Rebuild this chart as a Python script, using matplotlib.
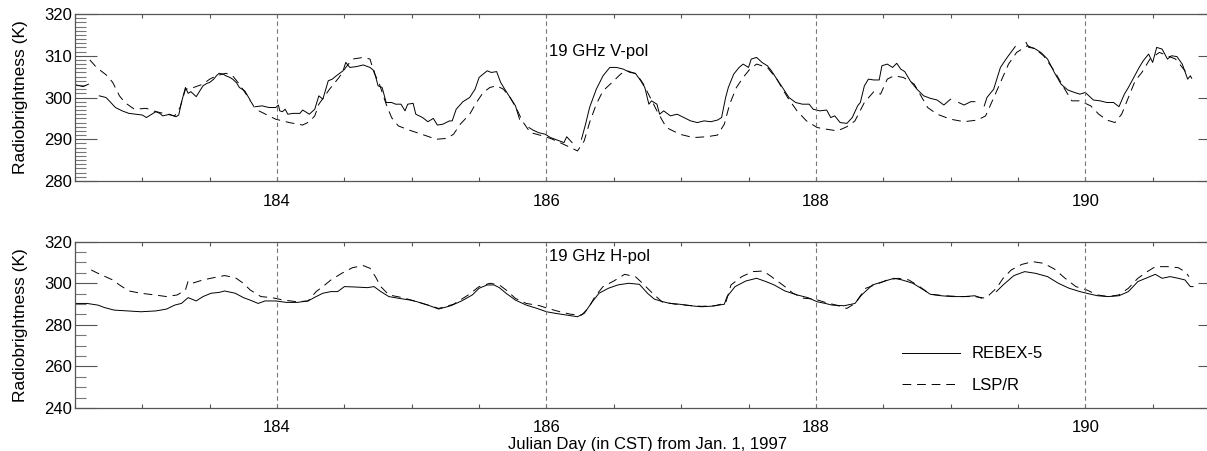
import numpy as np
import matplotlib
matplotlib.use("Agg")
import matplotlib.pyplot as plt
from matplotlib.ticker import MultipleLocator

plt.rcParams['font.family'] = ['Liberation Sans', 'DejaVu Sans']

# %%
# Values (day of year, brightness in K)
# None marks a gap in the record
rebex_v_day = [182.51, 182.56, 182.60, None, 182.68, 182.73, 182.76, 182.80, 182.85, 182.90,
               182.95, 183.00, 183.03, 183.07, 183.10, 183.13, 183.15, 183.18, 183.20, 183.23,
               183.25, 183.27, 183.29, 183.32, 183.34, 183.36, 183.40, 183.45, 183.48, 183.50,
               183.53, 183.55, 183.57, 183.60, 183.62, 183.65, 183.67, 183.70, 183.72, 183.76,
               183.80, None, 183.84, 183.89, 183.94, 183.99, 184.01, 184.02, 184.04, 184.06,
               184.08, 184.12, 184.17, 184.19, 184.24, 184.28, 184.31, 184.34, 184.38, 184.41,
               184.44, 184.49, 184.51, 184.54, 184.59, 184.64, 184.69, 184.72, 184.75, 184.78,
               184.81, 184.85, 184.88, 184.92, 184.95, 184.97, 185.01, 185.03, 185.08, 185.12,
               185.16, 185.19, 185.23, 185.28, 185.30, 185.33, 185.38, 185.43, 185.47, 185.50,
               185.53, 185.56, 185.59, 185.63, 185.66, 185.69, 185.73, 185.77, 185.80, None,
               185.87, 185.90, 185.94, 185.99, 186.03, 186.08, 186.13, 186.15, 186.19, None,
               186.26, 186.29, 186.32, 186.37, 186.42, 186.47, 186.52, 186.57, 186.62, 186.66,
               186.70, 186.73, 186.76, 186.78, 186.82, 186.84, 186.87, 186.92, 186.97, 187.02,
               187.07, 187.12, 187.17, 187.22, 187.27, 187.30, 187.33, 187.35, 187.39, 187.43,
               187.46, 187.50, 187.52, 187.56, 187.60, 187.64, 187.67, 187.71, 187.76, 187.80,
               187.85, 187.90, 187.95, 187.98, 188.03, 188.08, 188.11, 188.14, 188.18, 188.23,
               188.27, 188.31, 188.33, 188.36, 188.39, 188.43, 188.47, 188.49, 188.53, 188.57,
               188.60, 188.63, 188.66, 188.70, 188.75, 188.80, 188.85, 188.90, 188.95, 189.00,
               None, 189.06, 189.10, 189.15, 189.18, None, 189.25, 189.27, 189.32, 189.37,
               189.42, 189.48, None, 189.56, 189.58, 189.62, 189.67, 189.72, 189.77, 189.82,
               189.87, 189.92, 189.96, 190.00, 190.06, 190.11, 190.16, 190.21, 190.25, 190.29,
               190.32, 190.36, 190.40, 190.43, 190.47, 190.50, 190.53, 190.57, 190.61, 190.64,
               190.68, 190.72, 190.76, 190.78, 190.79]
rebex_v_tb = [303.0, 302.6, 303.2, None, 300.4, 300.0, 299.0, 297.6, 296.8, 296.2,
              296.0, 295.8, 295.2, 296.0, 296.6, 296.2, 295.6, 295.8, 296.0, 295.6,
              295.4, 295.8, 298.8, 302.4, 301.0, 301.4, 300.2, 302.8, 303.4, 303.6,
              304.4, 305.2, 305.8, 305.6, 305.2, 304.8, 304.4, 303.5, 302.4, 301.6,
              299.4, None, 297.8, 298.0, 297.6, 297.6, 298.2, 296.8, 296.6, 297.2,
              296.0, 296.2, 296.2, 297.0, 296.0, 297.2, 300.4, 299.6, 304.0, 304.4,
              305.2, 306.4, 308.4, 307.2, 307.4, 307.8, 307.2, 306.4, 302.8, 302.4,
              298.8, 298.8, 298.4, 298.4, 296.8, 298.4, 298.6, 296.0, 295.2, 294.2,
              295.0, 293.4, 293.6, 294.4, 294.4, 297.2, 299.0, 300.0, 302.0, 304.8,
              305.6, 306.4, 306.0, 306.2, 303.6, 302.0, 300.0, 298.0, 294.8, None,
              292.8, 292.2, 291.6, 291.2, 290.4, 289.8, 289.2, 290.6, 289.2, None,
              290.0, 293.6, 297.6, 302.0, 305.2, 307.2, 307.2, 306.8, 306.0, 305.8,
              304.0, 302.4, 298.4, 299.2, 298.4, 296.0, 296.8, 295.6, 296.0, 295.2,
              294.4, 294.0, 294.4, 294.2, 294.6, 295.2, 300.0, 302.4, 305.6, 307.2,
              308.0, 307.2, 309.2, 309.6, 308.4, 307.6, 306.4, 304.4, 302.0, 300.0,
              298.8, 298.4, 298.4, 297.2, 296.8, 297.0, 295.2, 295.6, 294.0, 293.8,
              295.2, 298.0, 298.8, 302.8, 304.4, 304.2, 304.2, 307.6, 308.0, 307.2,
              308.2, 306.8, 306.2, 304.0, 302.0, 300.4, 299.8, 299.4, 298.2, 299.6,
              None, 298.8, 298.2, 299.0, 299.0, None, 298.0, 300.0, 302.0, 307.2,
              309.6, 312.2, None, 313.2, 312.0, 311.8, 310.8, 309.2, 306.0, 303.2,
              301.8, 301.2, 300.8, 301.2, 299.4, 299.2, 298.8, 298.8, 297.8, 300.8,
              302.4, 304.8, 307.2, 308.8, 310.4, 308.4, 312.0, 311.6, 309.2, 310.0,
              309.8, 308.0, 304.4, 305.2, 304.6]

lsp_v_day = [182.61, 182.66, 182.74, 182.78, 182.83, 182.87, 182.94, 183.03, 183.08, 183.18,
             183.24, 183.28, 183.32, 183.38, 183.45, 183.50, 183.55, 183.62, 183.67, 183.72,
             183.77, 183.81, 183.84, 183.89, 183.99, 184.09, 184.19, 184.24, 184.28, 184.31,
             184.39, 184.46, 184.51, 184.56, 184.64, 184.69, 184.72, 184.76, 184.81, 184.85,
             184.90, 184.98, 185.11, 185.18, 185.26, 185.31, 185.36, 185.43, 185.48, 185.53,
             185.58, 185.63, 185.68, 185.73, 185.78, 185.82, 185.88, 185.95, 186.03, 186.10,
             186.18, 186.23, 186.28, 186.32, 186.37, 186.42, 186.50, 186.55, 186.60, 186.67,
             186.72, 186.77, 186.82, 186.89, 186.99, 187.09, 187.19, 187.27, 187.32, 187.36,
             187.41, 187.46, 187.51, 187.56, 187.64, 187.71, 187.79, 187.86, 187.93, 188.01,
             188.08, 188.16, 188.23, 188.29, 188.36, 188.43, 188.48, 188.53, 188.58, 188.65,
             188.73, 188.78, 188.83, 188.90, 189.00, 189.10, 189.20, 189.26, 189.31, 189.37,
             189.43, 189.49, 189.57, 189.63, 189.69, 189.77, 189.84, 189.90, 189.96, 190.04,
             190.10, 190.16, 190.22, 190.27, 190.32, 190.37, 190.42, 190.48, 190.55, 190.61,
             190.67, 190.72, 190.77]
lsp_v_tb = [309.0, 307.2, 305.2, 303.6, 300.4, 298.8, 297.2, 297.4, 296.8, 296.0,
            295.6, 297.6, 302.0, 302.4, 303.2, 304.4, 305.2, 305.8, 305.2, 303.2,
            300.8, 298.8, 297.2, 296.4, 294.8, 294.0, 293.4, 294.2, 295.6, 298.4,
            302.0, 304.8, 307.2, 309.2, 309.6, 309.2, 306.0, 303.2, 298.4, 295.2,
            293.2, 292.2, 290.8, 290.0, 290.2, 291.2, 293.6, 296.0, 298.8, 301.2,
            302.4, 302.8, 302.0, 300.0, 297.2, 294.4, 291.6, 291.0, 290.2, 289.2,
            288.0, 287.2, 289.6, 294.0, 298.4, 301.6, 304.0, 305.6, 306.4, 305.6,
            303.2, 300.0, 296.8, 292.8, 291.2, 290.4, 290.6, 291.0, 293.6, 298.4,
            302.4, 304.8, 306.8, 308.0, 307.2, 304.4, 300.0, 296.8, 294.4, 292.8,
            292.4, 292.0, 293.0, 294.4, 298.8, 301.4, 300.8, 304.4, 305.2, 304.8,
            303.2, 300.4, 297.6, 296.0, 294.8, 294.2, 294.6, 295.6, 299.2, 303.6,
            308.0, 310.8, 312.4, 311.6, 310.0, 306.4, 302.4, 299.2, 299.2, 298.0,
            296.0, 294.6, 294.0, 296.0, 300.0, 304.0, 306.0, 309.2, 310.8, 310.0,
            309.2, 307.2, 305.2]

rebex_h_day = [182.51, 182.59, 182.67, 182.72, 182.79, 182.89, 182.99, 183.10, 183.18, 183.24,
               183.29, 183.34, 183.40, 183.45, 183.51, 183.57, 183.61, 183.69, 183.75, 183.80,
               183.86, 183.91, 183.99, 184.07, 184.15, 184.23, 184.29, 184.34, 184.40, 184.45,
               184.50, 184.58, 184.67, 184.72, 184.77, 184.83, 184.91, 184.99, 185.04, 185.12,
               185.20, 185.29, 185.37, 185.45, 185.50, 185.56, 185.61, 185.65, 185.70, 185.77,
               185.85, 185.93, 186.00, 186.07, 186.15, 186.23, 186.28, 186.34, 186.39, 186.46,
               186.53, 186.61, 186.69, 186.75, 186.80, 186.86, 186.91, 186.99, 187.07, 187.15,
               187.23, 187.32, 187.34, 187.40, 187.48, 187.56, 187.63, 187.69, 187.77, 187.86,
               187.94, 188.01, 188.07, 188.12, 188.21, 188.29, 188.34, 188.42, 188.50, 188.58,
               188.64, 188.72, 188.80, 188.85, 188.93, 189.01, 189.10, 189.18, 189.23, None,
               189.34, 189.39, 189.47, 189.55, 189.63, 189.72, 189.80, 189.88, 189.96, 190.01,
               190.09, 190.17, 190.25, 190.32, 190.39, 190.46, 190.52, 190.57, 190.63, 190.69,
               190.74, 190.78, 190.80]
rebex_h_tb = [290.3, 290.3, 289.5, 288.3, 287.1, 286.7, 286.3, 286.7, 287.6, 289.5,
              290.3, 293.1, 291.5, 293.6, 295.2, 295.6, 296.3, 295.2, 293.1, 291.9,
              290.3, 291.5, 291.5, 290.8, 290.8, 291.5, 293.6, 295.2, 296.0, 296.0,
              298.4, 298.2, 297.9, 298.4, 296.0, 293.6, 292.7, 291.9, 291.1, 289.5,
              287.6, 289.2, 291.5, 294.4, 297.6, 299.2, 299.2, 297.9, 295.2, 291.9,
              289.5, 287.9, 286.3, 285.5, 284.7, 283.9, 285.5, 291.1, 295.2, 297.6,
              299.2, 300.0, 299.5, 295.2, 292.4, 291.2, 290.4, 289.9, 289.2, 288.7,
              289.0, 289.9, 293.5, 298.4, 301.1, 302.4, 300.8, 299.2, 296.3, 294.4,
              293.1, 291.1, 290.3, 289.5, 289.2, 290.3, 294.4, 299.2, 300.8, 302.4,
              301.6, 300.0, 296.8, 294.7, 294.0, 293.6, 293.6, 294.0, 292.8, None,
              296.0, 299.2, 303.7, 305.6, 304.8, 303.2, 300.0, 297.6, 296.0, 295.2,
              294.0, 293.6, 294.0, 296.0, 300.8, 302.7, 304.3, 302.4, 303.2, 302.4,
              301.6, 298.4, 298.4]

lsp_h_day = [182.62, 182.67, 182.78, 182.83, 182.90, 182.99, 183.09, 183.18, 183.26, 183.32,
             183.34, 183.37, 183.45, 183.53, 183.61, 183.69, 183.75, 183.80, 183.88, 183.96,
             184.05, 184.15, 184.23, 184.29, 184.34, 184.40, 184.48, 184.56, 184.64, 184.69,
             184.73, 184.77, 184.83, 184.93, 185.02, 185.12, 185.20, 185.31, 185.42, 185.50,
             185.58, 185.65, 185.70, 185.77, 185.85, 185.95, 186.01, 186.10, 186.18, 186.26,
             186.31, 186.36, 186.42, 186.50, 186.58, 186.66, 186.70, 186.75, 186.80, 186.86,
             186.95, 187.05, 187.15, 187.25, 187.33, 187.37, 187.45, 187.53, 187.61, 187.67,
             187.72, 187.77, 187.83, 187.91, 187.99, 188.07, 188.15, 188.23, 188.29, 188.37,
             188.45, 188.53, 188.61, 188.69, 188.77, 188.85, 188.96, 189.07, 189.18, 189.26,
             189.34, 189.39, 189.45, 189.53, 189.61, 189.69, 189.77, 189.85, 189.93, 190.01,
             190.09, 190.17, 190.25, 190.32, 190.39, 190.46, 190.52, 190.61, 190.69, 190.74,
             190.77]
lsp_h_tb = [306.4, 304.8, 301.6, 299.2, 296.3, 295.2, 294.4, 293.6, 294.4, 296.8,
            301.1, 300.0, 301.6, 302.7, 303.7, 302.7, 300.0, 296.8, 293.6, 293.1,
            291.9, 291.1, 291.5, 296.0, 298.4, 301.6, 304.8, 307.5, 308.5, 307.2,
            303.2, 298.4, 294.4, 293.1, 291.5, 289.5, 287.9, 289.9, 294.4, 298.4,
            300.0, 299.2, 296.8, 292.7, 290.3, 289.2, 287.9, 286.3, 285.1, 284.7,
            287.9, 293.6, 298.4, 301.1, 304.3, 303.2, 300.8, 297.6, 294.4, 291.0,
            290.0, 289.4, 288.9, 289.2, 290.5, 299.2, 303.2, 305.6, 305.9, 303.2,
            300.8, 298.4, 295.2, 292.8, 292.4, 290.8, 289.5, 287.9, 290.3, 297.6,
            299.5, 301.6, 302.4, 301.6, 298.4, 294.7, 294.0, 293.6, 293.6, 292.8,
            297.6, 302.4, 306.4, 309.1, 310.4, 309.6, 306.9, 302.4, 298.4, 296.8,
            294.4, 293.6, 294.4, 297.6, 302.4, 305.6, 308.0, 308.0, 307.5, 305.6,
            303.2]

vline_days = [184, 186, 188, 190]
x_range = (182.5, 191.0)
v_range = (280, 320)
h_range = (240, 320)

# %%
def arr(values):
    return np.array(values, dtype=float)

W, H = 1207, 451
fig = plt.figure(figsize=(W / 100, H / 100), dpi=100)
ax_v = fig.add_axes([75 / W, 1 - 181 / H, 1145 / W, 167 / H])
ax_h = fig.add_axes([75 / W, 1 - 408 / H, 1145 / W, 166.3 / H])

dash = (0, (9, 6))
for ax, (d1, t1, d2, t2), yr, major, minor in [
        (ax_v, (rebex_v_day, rebex_v_tb, lsp_v_day, lsp_v_tb), v_range, 10, 1),
        (ax_h, (rebex_h_day, rebex_h_tb, lsp_h_day, lsp_h_tb), h_range, 20, 5)]:
    ax.plot(arr(d1), arr(t1), color='black', lw=0.7, label='REBEX-5')
    ax.plot(arr(d2), arr(t2), color='black', lw=0.7, ls=dash, label='LSP/R')
    for d in vline_days:
        ax.axvline(d, color='#777777', lw=0.8, ls=(0, (4, 3)))
    ax.set_xlim(*x_range)
    ax.set_ylim(*yr)
    ax.xaxis.set_major_locator(MultipleLocator(2))
    ax.xaxis.set_minor_locator(MultipleLocator(0.5))
    ax.yaxis.set_major_locator(MultipleLocator(major))
    ax.yaxis.set_minor_locator(MultipleLocator(minor))
    ax.tick_params(axis='y', which='major', direction='in', length=16, width=0.8,
                   left=True, right=True, color='#555555', pad=2, labelsize=12)
    ax.tick_params(axis='y', which='minor', direction='in', length=8, width=0.8,
                   left=True, right=True, color='#777777')
    ax.tick_params(axis='x', which='both', direction='in', length=3, width=0.8,
                   top=True, bottom=True, color='#555555', pad=9, labelsize=12)
    for s in ax.spines.values():
        s.set_color('#555555')
        s.set_linewidth(0.9)
    ax.set_ylabel('Radiobrightness (K)', fontsize=12.5)
    ax.yaxis.set_label_coords(-0.041, 0.5)

ax_v.text(186.02, 311.1, '19 GHz V-pol', fontsize=12, va='center', ha='left')
ax_h.text(186.02, 313.1, '19 GHz H-pol', fontsize=12, va='center', ha='left')

ax_h.legend(loc='upper left', bbox_to_anchor=(0.722, 0.37), frameon=False,
            handlelength=3.5, handletextpad=0.7, labelspacing=1.0,
            borderpad=0, borderaxespad=0, fontsize=12)
ax_h.set_xlabel('Julian Day (in CST) from Jan. 1, 1997', fontsize=12, labelpad=1)

fig.savefig('out.png', dpi=100)
